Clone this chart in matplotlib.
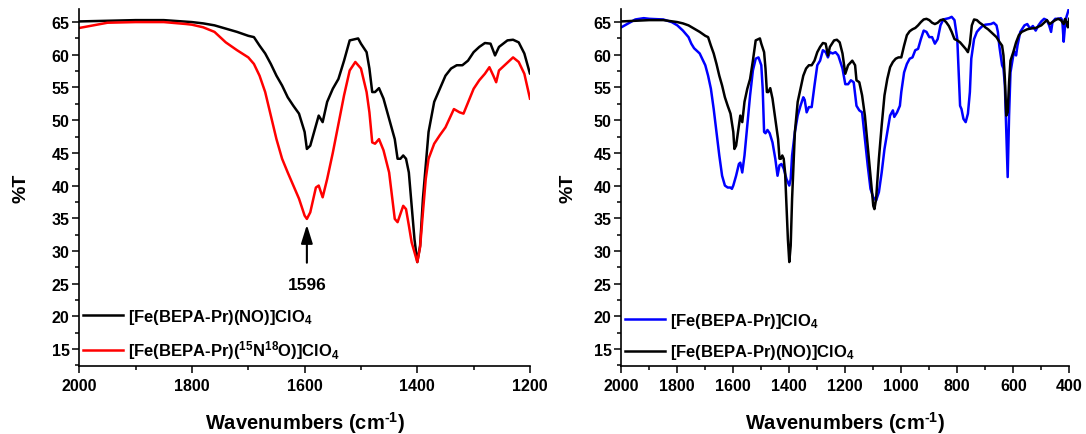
import matplotlib
matplotlib.use("Agg")
import matplotlib.pyplot as plt
from matplotlib.ticker import MultipleLocator

plt.rcParams["font.family"] = "Liberation Sans"
plt.rcParams["font.weight"] = "bold"
plt.rcParams["mathtext.fontset"] = "custom"
plt.rcParams["mathtext.rm"] = "Liberation Sans:bold"
plt.rcParams["mathtext.bf"] = "Liberation Sans:bold"
plt.rcParams["mathtext.it"] = "Liberation Sans:bold"
plt.rcParams["mathtext.default"] = "rm"

# ---------- data ----------
# [Fe(BEPA-Pr)(NO)]ClO4  (2000 -> 400 cm-1)
wn_no = [2000, 1950, 1900, 1850, 1800, 1780, 1760, 1740, 1720, 1700,
         1690, 1680, 1670, 1660, 1650, 1640, 1630, 1620, 1610, 1600,
         1596, 1590, 1580, 1575, 1568, 1560, 1550, 1540, 1530, 1520,
         1510, 1505, 1500, 1490, 1485, 1480, 1475, 1468, 1460, 1450,
         1440, 1435, 1430, 1425, 1420, 1415, 1410, 1405, 1400, 1395,
         1390, 1385, 1380, 1370, 1360, 1350, 1340, 1330, 1320, 1310,
         1300, 1290, 1280, 1270, 1262, 1255, 1240, 1230, 1220, 1210,
         1200, 1190, 1175, 1165, 1160, 1150, 1140, 1130, 1120, 1110,
         1100, 1096, 1090, 1080, 1070, 1060, 1050, 1040, 1030, 1020,
         1010, 1000, 990, 980, 970, 960, 950, 940, 930, 920,
         910, 900, 890, 880, 870, 860, 850, 840, 830, 820,
         810, 800, 790, 780, 770, 762, 755, 748, 740, 730,
         720, 710, 700, 690, 680, 670, 660, 650, 640, 635,
         630, 625, 620, 615, 610, 600, 590, 580, 570, 560,
         550, 540, 520, 500, 490, 480, 470, 460, 450, 440,
         430, 420, 415, 410, 405, 400]
t_no = [65.1, 65.2, 65.3, 65.3, 65.0, 64.8, 64.5, 64.0, 63.5, 62.9,
        62.7, 61.4, 60.2, 58.6, 56.8, 55.3, 53.5, 52.2, 51.0, 48.2,
        45.6, 46.1, 49.2, 50.7, 49.7, 52.8, 54.8, 56.3, 59.1, 62.2,
        62.4, 62.5, 61.7, 60.4, 57.9, 54.3, 54.3, 54.9, 53.3, 50.2,
        47.1, 44.1, 44.1, 44.6, 44.1, 42.0, 36.9, 31.8, 28.3, 30.8,
        38.0, 43.1, 48.2, 52.8, 54.8, 56.8, 57.9, 58.4, 58.4, 59.1,
        60.4, 61.2, 61.8, 61.7, 59.9, 61.2, 62.2, 62.3, 61.9, 60.2,
        57.1, 58.4, 59.1, 58.4, 56.1, 55.8, 53.8, 50.7, 46.1, 41.5,
        36.9, 36.4, 37.9, 44.1, 49.2, 53.8, 56.3, 58.1, 58.9, 59.4,
        59.6, 59.6, 61.4, 63.0, 63.6, 63.9, 64.1, 64.5, 65.0, 65.4,
        65.5, 65.3, 64.9, 64.7, 64.9, 65.3, 65.4, 65.0, 64.4, 63.5,
        62.4, 62.2, 61.9, 61.4, 60.9, 60.4, 61.7, 64.5, 65.4, 65.3,
        64.9, 64.6, 64.2, 63.9, 63.5, 63.1, 62.7, 62.0, 61.4, 59.9,
        56.3, 50.7, 51.2, 55.8, 59.1, 60.4, 61.9, 63.0, 63.5, 63.7,
        63.9, 64.0, 64.1, 64.5, 64.9, 65.3, 64.7, 65.0, 65.3, 65.5,
        65.3, 64.7, 65.5, 65.0, 64.2, 65.5]

# [Fe(BEPA-Pr)(15N18O)]ClO4  (2000 -> 1200 cm-1)
wn_iso = [2000, 1950, 1900, 1850, 1810, 1800, 1780, 1760, 1740, 1720,
          1700, 1690, 1680, 1670, 1660, 1650, 1640, 1630, 1620, 1610,
          1600, 1596, 1590, 1580, 1575, 1568, 1560, 1550, 1540, 1530,
          1520, 1510, 1500, 1490, 1485, 1480, 1475, 1468, 1460, 1450,
          1440, 1435, 1425, 1420, 1415, 1410, 1400, 1395, 1390, 1385,
          1380, 1370, 1360, 1350, 1335, 1325, 1318, 1300, 1290, 1280,
          1272, 1265, 1260, 1255, 1245, 1230, 1220, 1210, 1200]
t_iso = [64.1, 64.9, 65.0, 65.0, 64.7, 64.6, 64.2, 63.5, 61.9, 60.7,
         59.6, 58.6, 56.8, 54.3, 50.7, 47.1, 44.1, 42.0, 40.0, 38.0,
         35.4, 34.9, 35.9, 39.7, 40.0, 38.2, 41.0, 45.0, 49.4, 53.8,
         57.6, 58.9, 57.9, 54.3, 51.2, 46.6, 46.4, 47.1, 45.4, 42.0,
         34.9, 34.4, 36.9, 36.4, 33.9, 31.3, 28.3, 30.6, 35.9, 41.0,
         44.1, 46.4, 47.7, 48.9, 51.7, 51.2, 51.0, 54.8, 56.1, 57.1,
         58.1, 56.8, 55.8, 57.6, 58.4, 59.6, 58.9, 57.1, 53.3]

# [Fe(BEPA-Pr)]ClO4  (2000 -> 400 cm-1)
wn_free = [2000, 1950, 1920, 1900, 1850, 1820, 1800, 1780, 1760, 1750,
           1740, 1720, 1700, 1690, 1680, 1670, 1660, 1650, 1640, 1630,
           1620, 1610, 1605, 1600, 1590, 1580, 1575, 1568, 1560, 1550,
           1540, 1530, 1520, 1510, 1500, 1495, 1490, 1485, 1478, 1470,
           1460, 1450, 1442, 1435, 1428, 1420, 1410, 1400, 1395, 1390,
           1380, 1370, 1360, 1350, 1345, 1338, 1330, 1320, 1310, 1300,
           1290, 1280, 1270, 1262, 1255, 1245, 1235, 1225, 1210, 1200,
           1190, 1180, 1170, 1160, 1150, 1140, 1130, 1120, 1110, 1100,
           1090, 1080, 1070, 1060, 1050, 1040, 1030, 1025, 1015, 1005,
           1000, 990, 980, 970, 960, 950, 940, 930, 920, 910,
           900, 890, 880, 870, 860, 850, 840, 830, 820, 810,
           800, 795, 790, 785, 778, 770, 762, 755, 750, 740,
           730, 720, 710, 700, 680, 670, 660, 655, 650, 640,
           635, 630, 625, 620, 615, 610, 600, 595, 590, 585,
           575, 560, 550, 540, 530, 520, 510, 500, 490, 480,
           472, 465, 460, 450, 440, 430, 425, 420, 415, 410,
           405, 400]
t_free = [64.2, 65.4, 65.6, 65.5, 65.4, 65.0, 64.5, 63.7, 62.7, 61.7,
          61.0, 60.2, 58.4, 56.8, 54.8, 51.7, 48.2, 44.6, 41.5, 40.0,
          39.7, 39.7, 39.5, 40.0, 41.5, 43.3, 43.5, 42.0, 44.6, 49.2,
          53.8, 57.6, 59.4, 59.6, 58.4, 54.8, 48.2, 48.0, 48.5, 48.0,
          46.6, 44.1, 41.5, 43.1, 43.3, 42.6, 41.0, 40.0, 41.0, 44.6,
          48.2, 50.7, 52.2, 53.5, 53.1, 51.2, 52.0, 52.0, 55.3, 58.4,
          59.1, 60.7, 60.4, 59.6, 60.4, 60.2, 60.4, 59.9, 57.9, 55.5,
          55.5, 56.1, 55.8, 52.2, 51.5, 51.2, 47.1, 43.1, 39.5, 38.2,
          37.7, 39.0, 42.0, 45.6, 48.2, 50.7, 51.5, 50.5, 51.2, 52.2,
          54.3, 57.3, 58.6, 59.4, 59.6, 60.7, 60.9, 62.4, 63.7, 63.5,
          62.7, 62.7, 61.7, 62.4, 64.5, 65.4, 65.5, 65.6, 65.8, 65.3,
          62.4, 57.3, 52.2, 51.7, 50.2, 49.7, 51.0, 54.3, 59.4, 62.4,
          63.5, 64.0, 64.4, 64.6, 64.7, 64.9, 64.5, 63.5, 61.4, 58.4,
          57.9, 55.3, 48.2, 41.3, 50.7, 57.3, 59.9, 60.4, 59.9, 61.4,
          63.5, 64.5, 64.7, 64.0, 64.4, 63.7, 64.5, 65.1, 65.5, 65.3,
          64.5, 63.5, 65.0, 65.5, 65.5, 65.6, 65.3, 62.0, 64.5, 65.8,
          66.5, 67.3]

lbl_no = r"[Fe(BEPA-Pr)(NO)]ClO$_4$"
lbl_iso = r"[Fe(BEPA-Pr)($^{15}$N$^{18}$O)]ClO$_4$"
lbl_free = r"[Fe(BEPA-Pr)]ClO$_4$"
xlabel = r"Wavenumbers (cm$^{\text{-1}}$)"

# ---------- figure ----------
fig = plt.figure(figsize=(10.86, 4.35), dpi=100)
ax1 = fig.add_axes([0.0730, 0.157, 0.4150, 0.820])
ax2 = fig.add_axes([0.5721, 0.157, 0.4125, 0.820])

lw = 1.8
ax1.plot(wn_no, t_no, color="black", lw=lw, label=lbl_no)
ax1.plot(wn_iso, t_iso, color="#ff0000", lw=lw, label=lbl_iso)
ax2.plot(wn_free, t_free, color="#0000ff", lw=lw, label=lbl_free)
ax2.plot(wn_no, t_no, color="black", lw=lw, label=lbl_no)

ax1.set_xlim(2000, 1200)
ax2.set_xlim(2000, 400)

for ax in (ax1, ax2):
    ax.set_ylim(12.45, 67.0)
    ax.xaxis.set_major_locator(MultipleLocator(200))
    ax.xaxis.set_minor_locator(MultipleLocator(100))
    ax.yaxis.set_minor_locator(MultipleLocator(2.5))
    ax.set_yticks([15, 20, 25, 30, 35, 40, 45, 50, 55, 60, 65])
    for s in ("top", "right"):
        ax.spines[s].set_visible(False)
    for s in ("left", "bottom"):
        ax.spines[s].set_linewidth(1.2)
    ax.tick_params(which="major", direction="out", length=5, width=1.1,
                   labelsize=11.5)
    ax.tick_params(which="minor", direction="out", length=3, width=1.1)
    ax.tick_params(axis="y", which="both", pad=2)
    for t in ax.get_xticklabels() + ax.get_yticklabels():
        t.set_fontweight("bold")
    ax.set_xlabel(xlabel, fontsize=14.5, fontweight="bold")
    ax.set_ylabel("%T", fontsize=14, fontweight="bold")
    ax.xaxis.set_label_coords(0.5, -0.122)
    ax.set_facecolor("none")

ax1.yaxis.set_label_coords(-0.11, 0.5)
ax2.yaxis.set_label_coords(-0.10, 0.5)

for ax in (ax1, ax2):
    ax.legend(loc="lower left", bbox_to_anchor=(0.008, 0.012), frameon=False,
              fontsize=12, handlelength=2.4, handletextpad=0.3,
              labelspacing=0.75, borderpad=0, borderaxespad=0)

ax1.annotate("", xy=(1596, 34.0), xytext=(1596, 28.2),
             arrowprops=dict(arrowstyle="-|>,head_length=0.8,head_width=0.25",
                             color="black", lw=1.5, mutation_scale=14,
                             shrinkA=0, shrinkB=0))
ax1.text(1596, 24.8, "1596", ha="center", va="center", fontsize=12.5,
         fontweight="bold")

fig.savefig("out.png", dpi=100)
